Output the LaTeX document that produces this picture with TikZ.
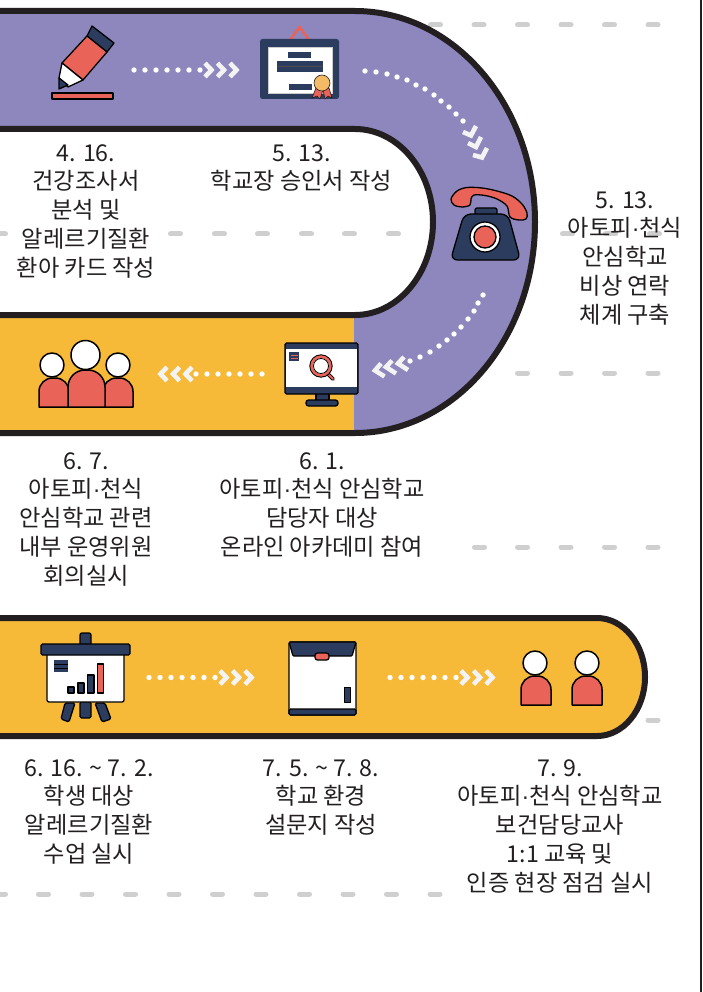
\documentclass[tikz,border=0pt]{standalone}
\usepackage{fontspec}
\setmainfont{Noto Sans CJK KR}
\newfontfamily\dotfont{Liberation Sans}
\newcommand{\mdot}{{\dotfont ·}}
\definecolor{ink}{HTML}{231F20}
\definecolor{lilac}{HTML}{8D87BE}
\definecolor{amber}{HTML}{F7BA38}
\definecolor{coral}{HTML}{E96358}
\definecolor{navy}{HTML}{2C3C5E}
\definecolor{dashgray}{HTML}{CFCFCF}
\definecolor{chevwhite}{HTML}{F3F3F3}
\definecolor{medal}{HTML}{F3BB66}
\tikzset{
  band/.style={draw=ink,line width=6pt},
  ico/.style={draw=black,line width=1.3pt,line join=round},
  chevron/.style={draw=chevwhite,line width=4.6pt,line join=miter},
  label/.style={text=ink,font=\fontsize{23.2}{28.8}\selectfont,align=center,anchor=north,inner sep=0pt},
  gdash/.style={draw=dashgray,line width=5pt,line cap=round},
}
\newcommand{\dotat}[2]{\fill[white] (#1,#2) circle[radius=2.7pt];}
\newcommand{\gdashes}[2]{\foreach \xx in {#2} {\draw[gdash] (\xx+2.5,#1) -- (\xx+12.5,#1);}}
\newcommand{\chevR}[2]{\draw[chevron] (#1,#2-6.8) -- (#1+6.5,#2) -- (#1,#2+6.8);}
\newcommand{\chevL}[2]{\draw[chevron] (#1,#2-6.8) -- (#1-6.5,#2) -- (#1,#2+6.8);}
\newcommand{\hchain}[2]{\foreach \nn in {0,...,6} {\fill[white] (#1+11*\nn,#2) circle[radius=2.7pt];}}
\newcommand{\personshape}[4]{\draw[ico,fill=coral,line width=1.5pt] (#1,#4) [rounded corners=13.5pt] -- (#1,#3) -- (#2,#3) [sharp corners] -- (#2,#4) -- cycle;}
\begin{document}
\begin{tikzpicture}[x=1pt,y=-1pt]
\useasboundingbox (0,0) rectangle (702,992);
\fill[white] (0,0) rectangle (702,992);
\fill[ink] (700,0) rectangle (702,992);
% grey dashes
\gdashes{25}{428,471.5,515,558.5,602,645.5}
\gdashes{234}{-7,168,212,255,299,342,386,560,603,647}
\gdashes{373}{515,558.5,602,645.5}
\gdashes{547}{472,515,558.5,602,645.5}
\gdashes{720}{645.5}
\gdashes{894}{-7,36,79.5,123,166.5,210,253.5,297,340.5,384,427.5}
% upper track
\fill[lilac] (0,11) -- (355,11) .. controls (454.4,11) and (535,105.5) .. (535,222)
  .. controls (535,338.5) and (454.4,433) .. (355,433) -- (0,433) -- (0,315) -- (355,315)
  .. controls (398,315) and (433,273.4) .. (433,222) .. controls (433,170.6) and (398,129) .. (355,129) -- (0,129) -- cycle;
\fill[amber] (0,315) rectangle (354,433);
\draw[band] (0,11) -- (355,11) .. controls (454.4,11) and (535,105.5) .. (535,222)
  .. controls (535,338.5) and (454.4,433) .. (355,433) -- (0,433);
\draw[band] (0,129) -- (355,129) .. controls (398,129) and (433,170.6) .. (433,222)
  .. controls (433,273.4) and (398,315) .. (355,315) -- (0,315);
% lower track
\fill[amber] (0,618) -- (597,618) .. controls (623.5,618) and (645,644.4) .. (645,677)
  .. controls (645,709.6) and (623.5,736) .. (597,736) -- (0,736) -- cycle;
\draw[band] (0,618) -- (597,618) .. controls (623.5,618) and (645,644.4) .. (645,677)
  .. controls (645,709.6) and (623.5,736) .. (597,736) -- (0,736);
% pencil
\draw[ico,fill=navy] (92,26) -- (114,43) -- (107,52) -- (87,36) -- cycle;
\draw[ico,fill=coral] (87,36) -- (107,52) -- (83,80) -- (62,63) -- cycle;
\draw[ico,fill=white] (62,63) -- (83,80) -- (68,87) -- (59,78) -- cycle;
\draw[ico,fill=navy] (59,78) -- (68,85) -- (59,89) -- cycle;
\draw[ico,fill=coral] (52,93) rectangle (113,99);
\hchain{134}{70}
\chevR{205}{70}\chevR{217.5}{70}\chevR{230}{70}
% certificate
\draw[coral,line width=2.6pt] (290,40) -- (299.5,27) -- (309,40);
\fill[navy,rounded corners=2.5pt] (260,39) rectangle (339,99);
\draw[fill=white,draw=gray!40,line width=.5pt] (268,47) rectangle (332,93);
\fill[navy] (288,52) rectangle (311,58);
\fill[navy] (277,61) rectangle (323,72);
\draw[black!70,line width=.8pt] (277,66.5) -- (323,66.5);
\draw[navy,line width=.6pt,fill=navy] (289,84) rectangle (311,89);
\draw[fill=coral,draw=ink,line width=.6pt] (316,88) -- (312,98) -- (317,96) -- (320,99) -- (323,90) -- cycle;
\draw[fill=coral,draw=ink,line width=.6pt] (323,90) -- (325,99) -- (328,96) -- (332,98) -- (329,88) -- cycle;
\draw[fill=medal,draw=ink,line width=.6pt] (322,83) circle[radius=8pt];
\foreach \px/\py in {365/71,376/72,387/74,397/77,407/80,416/85,425/89,434/95,441/101,449/107,456/114,463/121} {\dotat{\px}{\py}}
\draw[chevron] (463,132) -- (471,135.5) -- (476,126);
\draw[chevron] (468,143) -- (476,147) -- (481,137);
\draw[chevron] (473,155) -- (482,157.5) -- (487,148);
% telephone
\draw[ico,fill=navy,rounded corners=2pt] (475,214) -- (475,208) -- (497,208) -- (497,214);
\draw[ico,fill=navy,rounded corners=7pt] (450.5,260) -- (464,214) -- (508,214) -- (520.5,260) -- cycle;
\draw[ico,fill=white] (485,237) circle[radius=15pt];
\draw[ico,fill=coral] (485,237) circle[radius=11pt];
\draw[ico,fill=coral] plot[smooth cycle,tension=.55] coordinates {(451,199) (457,191) (467,187.5) (482,188) (497,191) (512,196) (522,204) (527,213) (526,219) (519,220) (510,217) (507,206) (497,199) (485,195.5) (474,195) (471,199) (470,205) (462,207) (454,205)};
\foreach \px/\py in {483/295,478/303,474/311,468/319,461/327,454/334,447/340,439/346,430/352,420/357,410/361} {\dotat{\px}{\py}}
\draw[chevron] (404,357) -- (398,363.5) -- (408,370);
\draw[chevron] (392,360.5) -- (386,367) -- (396,373.5);
\draw[chevron] (381,363.5) -- (375,370.5) -- (384.5,376.5);
% monitor
\draw[ico,fill=navy] (316,392) rectangle (329,403);
\draw[ico,fill=navy,rounded corners=2.5pt] (306,400) rectangle (338,406);
\draw[ico,fill=navy,rounded corners=1.5pt] (285,343) rectangle (358,394);
\fill[white] (286,349) rectangle (357,387);
\fill[navy] (289,352) rectangle (299,361);
\draw[coral,line width=.9pt] (290.5,355) -- (297.5,355) (290.5,358) -- (297.5,358);
\draw[black,line width=3.8pt,line cap=round] (327,373) -- (333,379);
\draw[coral,line width=1.8pt,line cap=round] (327,373) -- (333,379);
\draw[ico] (321,366) circle[radius=11pt];
\draw[coral,line width=2.6pt] (321,366) circle[radius=9.3pt];
\draw[black,line width=.8pt] (321,366) circle[radius=7.5pt];
\hchain{196}{374}
\chevL{192}{374}\chevL{179.5}{374}\chevL{167}{374}
% people
\personshape{39}{69}{378}{407}
\personshape{103}{133}{378}{407}
\draw[ico,fill=coral,line width=1.5pt] (68,407) [rounded corners=17pt] -- (68,370) -- (105,370) [sharp corners] -- (105,407) -- cycle;
\draw[ico,fill=white,line width=1.5pt] (52,365) circle[radius=12pt];
\draw[ico,fill=white,line width=1.5pt] (118,365) circle[radius=12pt];
\draw[ico,fill=white,line width=1.5pt] (85.5,355) circle[radius=14.5pt];
% easel
\draw[ico,fill=navy,rounded corners=2pt] (80,645) -- (80,633) -- (91,633) -- (91,645);
\draw[ico,fill=navy,rounded corners=1.5pt] (65,703) -- (75,703) -- (69,722) -- (61,719) -- cycle;
\draw[ico,fill=navy,rounded corners=1.5pt] (95,703) -- (105,703) -- (111,719) -- (102,722) -- cycle;
\draw[ico,fill=navy,rounded corners=1.5pt] (80,702) rectangle (91,718);
\draw[ico,fill=white,rounded corners=2pt] (47,652) rectangle (124,702);
\draw[ico,fill=navy,rounded corners=1.5pt] (41,644) rectangle (130,655);
\fill[navy] (54,660) rectangle (68,672);
\draw[black,line width=.8pt] (54,664) -- (68,664) (54,668) -- (68,668);
\draw[ico,fill=navy] (68,687) rectangle (74,693);
\draw[ico,fill=navy] (78,683) rectangle (84,693);
\draw[ico,fill=navy] (87.5,675) rectangle (94,693);
\draw[ico,fill=coral] (97.5,664) rectangle (103.5,693);
\hchain{149}{677.5}
\chevR{220}{677.5}\chevR{232.5}{677.5}\chevR{245}{677.5}
% box
\draw[ico,fill=white,rounded corners=1.5pt] (289,642) rectangle (356,715);
\draw[ico,fill=navy,rounded corners=1.5pt] (289,709) rectangle (356,715);
\draw[ico,fill=navy,rounded corners=1pt] (289,642) -- (356,642) -- (352,656) -- (293,656) -- cycle;
\draw[ico,fill=coral,rounded corners=2.5pt] (315,653) rectangle (329,660);
\draw[ico,fill=navy,line width=1pt] (344,687) rectangle (350,702);
\hchain{390}{677.5}
\chevR{461}{677.5}\chevR{473.5}{677.5}\chevR{486}{677.5}
% two persons
\personshape{521}{551}{676}{705}
\personshape{572}{602}{676}{705}
\draw[ico,fill=white,line width=1.5pt] (535,663) circle[radius=12pt];
\draw[ico,fill=white,line width=1.5pt] (587,663) circle[radius=12pt];
% labels
\node[label] (t416) at (86,144) {4. 16.\\건강조사서\\분석 및\\알레르기질환\\환아 카드 작성};
\node[label] (t513a) at (301.5,144) {5. 13.\\학교장 승인서 작성};
\node[label] (t513b) at (625,191) {5. 13.\\아토피\mdot 천식\\안심학교\\비상 연락\\체계 구축};
\node[label] (t67) at (86,452) {6. 7.\\아토피\mdot 천식\\안심학교 관련\\내부 운영위원\\회의실시};
\node[label] (t61) at (322,452) {6. 1.\\아토피\mdot 천식 안심학교\\담당자 대상\\온라인 아카데미 참여};
\node[label] (t616) at (89,759) {6. 16. \textasciitilde{} 7. 2.\\학생 대상\\알레르기질환\\수업 실시};
\node[label] (t75) at (321,759) {7. 5. \textasciitilde{} 7. 8.\\학교 환경\\설문지 작성};
\node[label] (t79) at (560,759) {7. 9.\\아토피\mdot 천식 안심학교\\보건담당교사\\1:1 교육 및\\인증 현장 점검 실시};
\end{tikzpicture}
\end{document}
